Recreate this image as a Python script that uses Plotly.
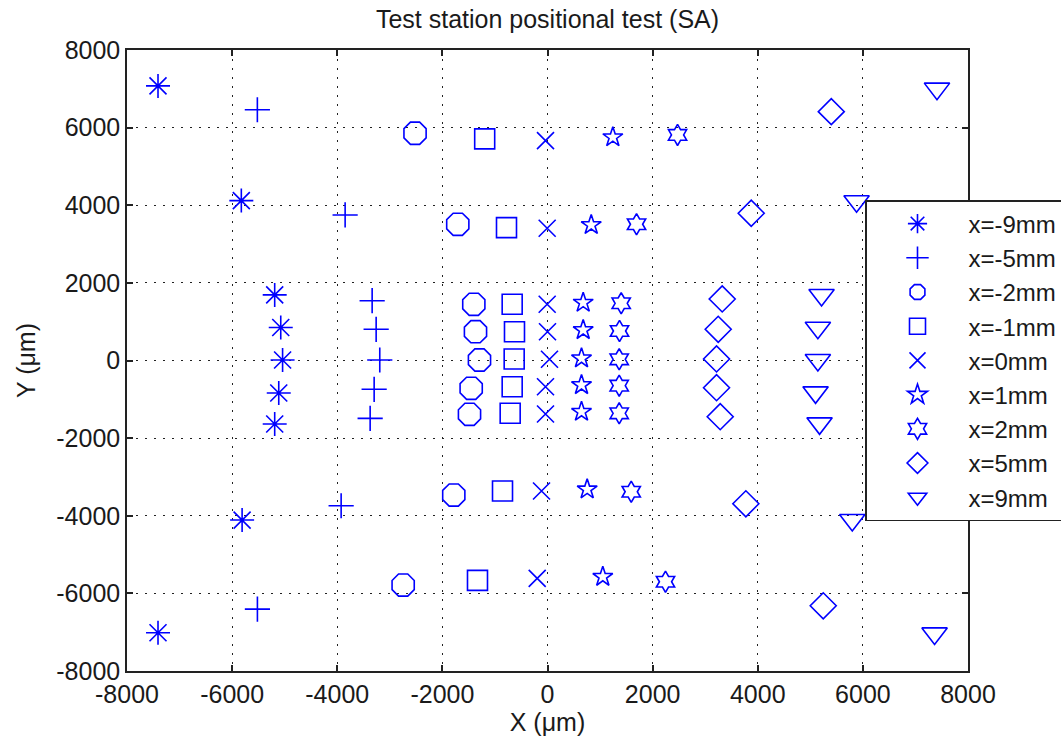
import plotly.graph_objects as go

# Measured marker positions (µm) for each X offset of the test station
series_names = ["x=-9mm", "x=-5mm", "x=-2mm", "x=-1mm", "x=0mm",
                "x=1mm", "x=2mm", "x=5mm", "x=9mm"]

x_m9 = [-7410, -5825, -5190, -5075, -5040, -5113, -5190, -5810, -7410]
y_m9 = [7075, 4120, 1690, 850, 13, -838, -1637, -4111, -7015]

x_m5 = [-5520, -3850, -3336, -3260, -3191, -3298, -3374, -3926, -5519]
y_m5 = [6460, 3750, 1541, 804, 13, -742, -1490, -3742, -6405]

x_m2 = [-2520, -1707, -1402, -1370, -1294, -1452, -1484, -1783, -2746]
y_m2 = [5855, 3510, 1448, 742, 13, -716, -1387, -3466, -5786]

x_m1 = [-1195, -780, -672, -628, -634, -672, -710, -856, -1332]
y_m1 = [5710, 3423, 1448, 742, 39, -675, -1361, -3363, -5665]

x_0 = [-38, -6, -6, 0, 38, -38, -38, -114, -196]
y_0 = [5665, 3407, 1448, 742, 31, -675, -1379, -3363, -5613]

x_p1 = [1243, 832, 679, 679, 647, 647, 647, 755, 1052]
y_p1 = [5753, 3492, 1490, 786, 57, -631, -1320, -3320, -5572]

x_p2 = [2474, 1694, 1402, 1370, 1364, 1364, 1364, 1593, 2245]
y_p2 = [5812, 3510, 1474, 760, 31, -649, -1361, -3381, -5701]

x_p5 = [5399, 3876, 3324, 3248, 3216, 3216, 3286, 3774, 5246]
y_p5 = [6412, 3794, 1585, 804, 39, -701, -1448, -3691, -6320]

x_p9 = [7410, 5880, 5214, 5144, 5144, 5100, 5176, 5798, 7364]
y_p9 = [7005, 4103, 1688, 845, 13, -820, -1619, -4111, -7031]

tick_vals = [-8000, -6000, -4000, -2000, 0, 2000, 4000, 6000, 8000]
tick_text = ["-8000", "-6000", "-4000", "-2000", "0", "2000", "4000", "6000", "8000"]

xs = [x_m9, x_m5, x_m2, x_m1, x_0, x_p1, x_p2, x_p5, x_p9]
ys = [y_m9, y_m5, y_m2, y_m1, y_0, y_p1, y_p2, y_p5, y_p9]

symbols = ["asterisk-open", "cross-thin-open", "octagon-open", "square-open",
           "x-thin-open", "star-open", "hexagram-open", "diamond-open",
           "triangle-down-open"]
sizes = [20, 18, 24, 20, 17, 15, 16, 20, 22]

BLUE = "#0000ff"
FONT = "Liberation Sans, Arial, sans-serif"
TXT = "#1a1a1a"
FS = 25

fig = go.Figure()
for name, xv, yv, sym, sz in zip(series_names, xs, ys, symbols, sizes):
    fig.add_trace(go.Scatter(
        x=xv, y=yv, mode="markers", name=name,
        marker=dict(symbol=sym, size=sz, color=BLUE,
                    line=dict(color=BLUE, width=1.6)),
    ))

axis_common = dict(
    range=[-8000, 8000],
    tickvals=tick_vals,
    ticktext=tick_text,
    ticks="inside",
    ticklen=6,
    tickwidth=1.5,
    tickcolor="#222",
    showline=True,
    linecolor="#222",
    linewidth=1.5,
    mirror="ticks",
    showgrid=True,
    gridcolor="#222",
    gridwidth=1,
    griddash="2px,7px",
    zeroline=False,
    tickfont=dict(family=FONT, size=FS, color=TXT),
)

fig.update_layout(
    width=1061,
    height=739,
    paper_bgcolor="white",
    plot_bgcolor="white",
    margin=dict(l=127, r=93, t=50, b=68, autoexpand=False),
    title=dict(text="Test station positional test (SA)",
               x=0.5, xref="paper", y=1 - 19 / 739, yanchor="middle",
               font=dict(family=FONT, size=FS, color=TXT)),
    xaxis=dict(axis_common,
               title=dict(text="X (μm)", standoff=5,
                          font=dict(family=FONT, size=FS, color=TXT))),
    yaxis=dict(axis_common,
               title=dict(text="Y (μm)", standoff=14,
                          font=dict(family=FONT, size=FS, color=TXT))),
    legend=dict(
        x=(865 - 127) / 841, xanchor="left",
        y=(671 - 200) / 621, yanchor="top",
        bgcolor="white", bordercolor="#222", borderwidth=1.5,
        font=dict(family=FONT, size=24, color=TXT),
        itemwidth=92,
    ),
    showlegend=True,
)

fig.write_html("out.html")
